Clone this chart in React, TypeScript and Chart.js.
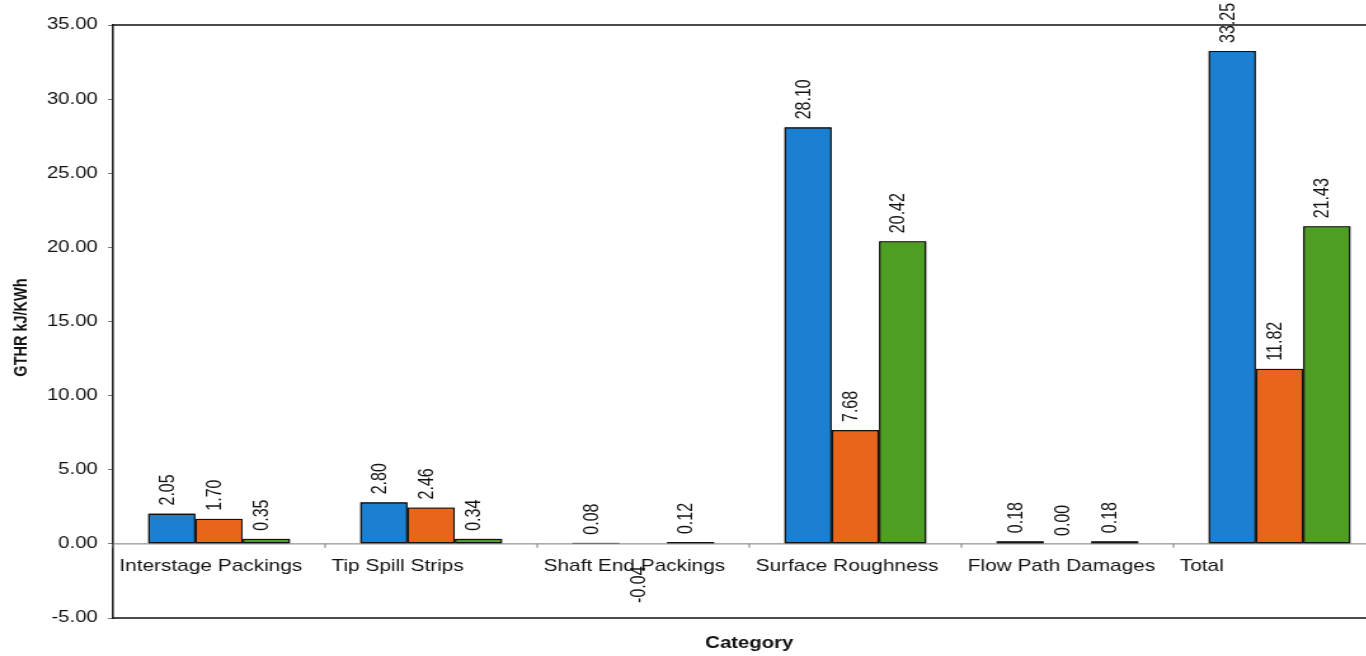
import React, { useEffect, useRef } from "react";
import { Chart, registerables } from "chart.js";

Chart.register(...registerables);

const categories = [
  "Interstage Packings",
  "Tip Spill Strips",
  "Shaft End Packings",
  "Surface Roughness",
  "Flow Path Damages",
  "Total",
];
const seriesBlue = [2.05, 2.8, 0.08, 28.1, 0.18, 33.25];
const seriesOrange = [1.7, 2.46, -0.04, 7.68, 0.0, 11.82];
const seriesGreen = [0.35, 0.34, 0.12, 20.42, 0.18, 21.43];
const yMin = -5;
const yMax = 35;
const yStep = 5;
const yTitle = "GTHR kJ/KWh";
const xTitle = "Category";

const SX = 1.27; // horizontal stretch of the reference picture
const FONT = "'Liberation Sans', Arial, sans-serif";

const overlayPlugin = {
  id: "overlay",
  afterDatasetsDraw(chart: any) {
    const { ctx, chartArea, scales } = chart;
    const x = scales.x;
    const y = scales.y;
    const zeroY = y.getPixelForValue(0);
    const n = categories.length;
    const catW = (chartArea.right - chartArea.left) / n;
    ctx.save();
    // zero line
    ctx.strokeStyle = "#7a7a7a";
    ctx.lineWidth = 1;
    ctx.beginPath();
    ctx.moveTo(chartArea.left, zeroY);
    ctx.lineTo(chartArea.right, zeroY);
    ctx.stroke();
    for (let i = 0; i <= n; i++) {
      const bx = x.getPixelForValue(i) - catW / 2;
      ctx.beginPath();
      ctx.moveTo(bx, zeroY);
      ctx.lineTo(bx, zeroY + 4);
      ctx.stroke();
    }
    // redraw bars above zero line
    chart.data.datasets.forEach((_: any, di: number) => {
      const meta = chart.getDatasetMeta(di);
      meta.data.forEach((el: any) => el.draw(ctx, chartArea));
    });
    // frame
    ctx.strokeStyle = "#111";
    ctx.lineWidth = 1.6;
    ctx.beginPath();
    ctx.moveTo(chartArea.left, chartArea.top);
    ctx.lineTo(chartArea.right, chartArea.top);
    ctx.lineTo(chartArea.right, chartArea.bottom);
    ctx.lineTo(chartArea.left, chartArea.bottom);
    ctx.stroke();
    // category labels
    ctx.fillStyle = "#111";
    ctx.font = `16.4px ${FONT}`;
    ctx.textAlign = "left";
    ctx.textBaseline = "middle";
    categories.forEach((c, i) => {
      const sx = x.getPixelForValue(i) - catW / 2 + 5;
      ctx.fillText(c, sx, zeroY + 23);
    });
    // data labels
    ctx.font = `16px ${FONT}`;
    chart.data.datasets.forEach((ds: any, di: number) => {
      const meta = chart.getDatasetMeta(di);
      meta.data.forEach((el: any, i: number) => {
        const v = ds.data[i];
        const txt = v.toFixed(2);
        ctx.save();
        if (v < 0) {
          ctx.translate(el.x - 3, el.y + 22);
          ctx.rotate(-Math.PI / 2);
          ctx.textAlign = "right";
        } else {
          ctx.translate(el.x - 3, el.y - 8);
          ctx.rotate(-Math.PI / 2);
          ctx.textAlign = "left";
        }
        ctx.textBaseline = "middle";
        ctx.fillText(txt, 0, 0);
        ctx.restore();
      });
    });
    // x title
    ctx.font = `bold 16px ${FONT}`;
    ctx.textAlign = "center";
    ctx.textBaseline = "middle";
    ctx.fillText(xTitle, (chartArea.left + chartArea.right) / 2, 644);
    // y title
    ctx.save();
    ctx.font = `bold 14.5px ${FONT}`;
    ctx.translate(17.3, (chartArea.top + chartArea.bottom) / 2 + 6);
    ctx.rotate(-Math.PI / 2);
    ctx.textAlign = "center";
    ctx.textBaseline = "middle";
    ctx.fillText(yTitle, 0, 0);
    ctx.restore();
    ctx.restore();
  },
};

export default function App() {
  const canvasRef = useRef<HTMLCanvasElement | null>(null);

  useEffect(() => {
    if (!canvasRef.current) return;
    const mk = (label: string, data: number[], color: string) => ({
      label,
      data,
      backgroundColor: color,
      borderColor: "#111",
      borderWidth: 1.4,
      borderSkipped: false,
      categoryPercentage: 0.67,
      barPercentage: 1.0,
    });
    const chart = new Chart(canvasRef.current, {
      type: "bar",
      data: {
        labels: categories,
        datasets: [
          mk("Series 1", seriesBlue, "#1b80d1"),
          mk("Series 2", seriesOrange, "#e8661c"),
          mk("Series 3", seriesGreen, "#4f9e24"),
        ],
      },
      options: {
        animation: false,
        responsive: true,
        maintainAspectRatio: false,
        layout: { padding: { top: 25, bottom: 38, left: 0, right: 0 } },
        plugins: {
          legend: { display: false },
          tooltip: { enabled: false },
        },
        scales: {
          x: {
            display: false,
            offset: true,
          },
          y: {
            min: yMin,
            max: yMax,
            afterFit: (scale: any) => {
              scale.width = 89;
            },
            ticks: {
              stepSize: yStep,
              padding: 8,
              color: "#111",
              font: { family: FONT, size: 16 },
              callback: (v: any) => Number(v).toFixed(2),
            },
            grid: {
              drawOnChartArea: false,
              drawTicks: true,
              tickLength: 4,
              tickColor: "#777",
            },
            border: { display: true, color: "#222", width: 1.6 },
            title: { display: false },
          },
        },
      },
      plugins: [overlayPlugin],
    });
    return () => chart.destroy();
  }, []);

  return (
    <div
      style={{
        position: "fixed",
        left: 0,
        top: 0,
        width: "1366px",
        height: "656px",
        overflow: "hidden",
        background: "#fff",
      }}
    >
      <div
        style={{
          position: "absolute",
          left: 0,
          top: 0,
          width: "1091px",
          height: "656px",
          transform: `scaleX(${SX})`,
          transformOrigin: "0 0",
        }}
      >
        <canvas ref={canvasRef} />
      </div>
    </div>
  );
}
